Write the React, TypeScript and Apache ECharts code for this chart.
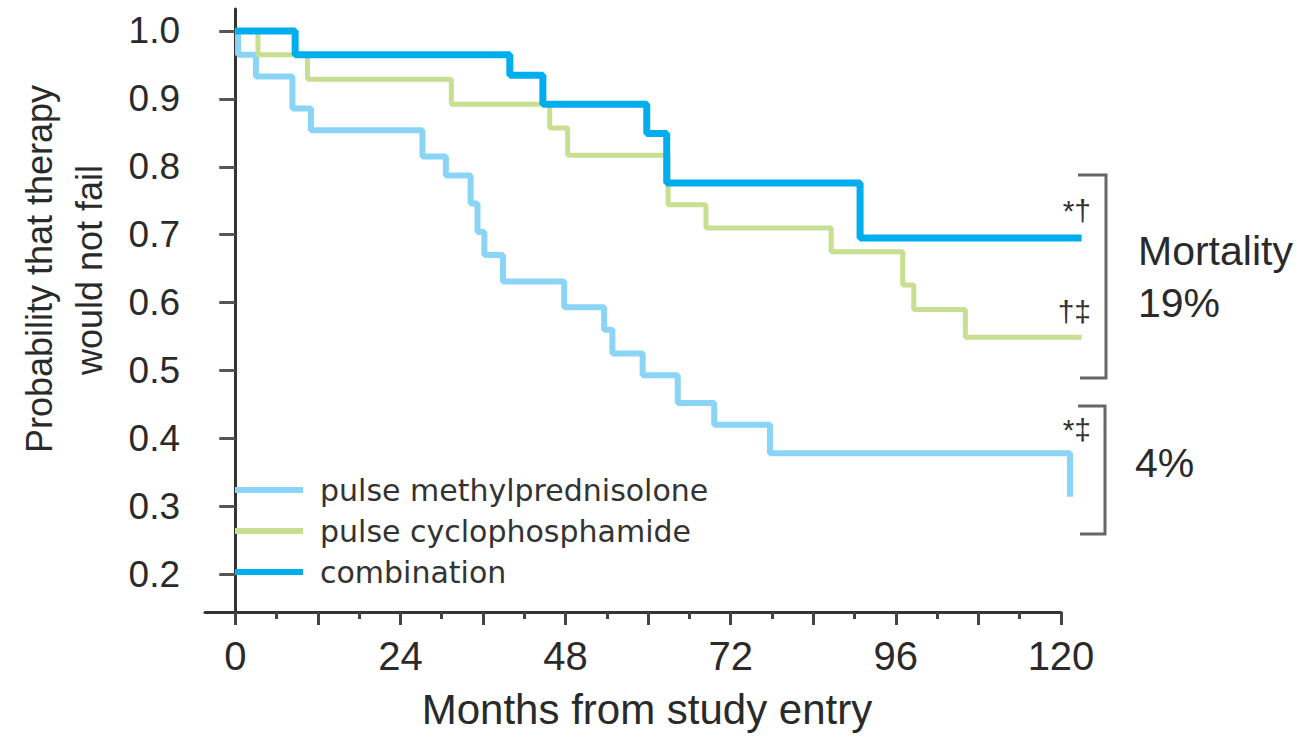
import React, { useEffect, useRef } from "react";
import * as echarts from "echarts";

// ---- data (months from study entry, probability therapy would not fail) ----
const seriesNames = ["pulse methylprednisolone", "pulse cyclophosphamide", "combination"];

const methylprednisolone: [number, number][] = [
  [0, 1.0], [0.4, 0.965], [3.0, 0.933], [8.3, 0.886], [11.0, 0.854], [27.2, 0.815],
  [30.6, 0.787], [34.2, 0.746], [35.2, 0.704], [36.2, 0.67], [38.9, 0.631], [47.8, 0.593],
  [53.6, 0.56], [54.8, 0.525], [59.2, 0.493], [64.3, 0.452], [69.6, 0.42], [77.7, 0.378],
  [121.3, 0.314],
];

const cyclophosphamide: [number, number][] = [
  [0, 1.0], [3.3, 0.965], [10.5, 0.929], [31.4, 0.892], [45.7, 0.857], [48.3, 0.817],
  [62.9, 0.744], [68.4, 0.71], [86.6, 0.675], [97.0, 0.626], [98.6, 0.59], [106.1, 0.549],
  [123, 0.549],
];

const combination: [number, number][] = [
  [0, 1.0], [8.7, 0.965], [39.9, 0.935], [44.7, 0.892], [59.8, 0.849], [62.7, 0.776],
  [90.8, 0.695], [123, 0.695],
];

const xMajorTicks = [0, 12, 24, 36, 48, 60, 72, 84, 96, 108, 120];
const xMinorTicks = [6, 18, 30, 42, 54, 66, 78, 90, 102, 114];
const xTickLabels = [0, 24, 48, 72, 96, 120];
const yTickValues = [0.2, 0.3, 0.4, 0.5, 0.6, 0.7, 0.8, 0.9, 1.0];

const seriesColors = ["#8AD4F6", "#C6DF90", "#00AEEF"];
const seriesWidths = [6, 5, 7];

const yTitleLines = ["Probability that therapy", "would not fail"];
const xTitle = "Months from study entry";
const mortalityTexts = ["Mortality", "19%", "4%"];
const significanceMarks = ["*†", "†‡", "*‡"];

const FONT = "'Liberation Sans', Arial, Helvetica, sans-serif";
const TEXT = "#2a2a2a";

// axis ranges
const X_MIN = -4.4;
const X_MAX = 120;
const X_DATA_MAX = 123.1;
const Y_MIN = 0.1443;
const Y_MAX = 1.0324;

export default function App() {
  const ref = useRef<HTMLDivElement>(null);

  useEffect(() => {
    if (!ref.current) return;
    const chart = echarts.init(ref.current, undefined, { renderer: "svg" });
    const datasets = [methylprednisolone, cyclophosphamide, combination];

    const gridLeft = 205;
    const gridWidth = 856;
    const pxPerMonth = gridWidth / (X_MAX - X_MIN);
    const dataGridWidth = pxPerMonth * (X_DATA_MAX - X_MIN);

    const option: any = {
      animation: false,
      backgroundColor: "#ffffff",
      grid: [
        { left: gridLeft, width: gridWidth, top: 9, bottom: 125, containLabel: false },
        { left: gridLeft, width: dataGridWidth, top: 9, bottom: 125, containLabel: false },
      ],
      xAxis: [
        {
          type: "value",
          gridIndex: 0,
          min: X_MIN,
          max: X_MAX,
          axisLine: { show: true, lineStyle: { color: "#333", width: 3 } },
          axisTick: {
            show: true,
            customValues: xMajorTicks,
            length: 13,
            lineStyle: { color: "#444", width: 3 },
          },
          axisLabel: {
            show: true,
            customValues: xTickLabels,
            margin: 24,
            fontSize: 40,
            fontFamily: FONT,
            color: TEXT,
          },
          splitLine: { show: false },
        },
        {
          type: "value",
          gridIndex: 0,
          min: X_MIN,
          max: X_MAX,
          position: "bottom",
          axisLine: { show: false },
          axisTick: {
            show: true,
            customValues: xMinorTicks,
            length: 7,
            lineStyle: { color: "#444", width: 3 },
          },
          axisLabel: { show: false },
          splitLine: { show: false },
        },
        {
          type: "value",
          gridIndex: 1,
          min: X_MIN,
          max: X_DATA_MAX,
          show: false,
        },
      ],
      yAxis: [
        {
          type: "value",
          gridIndex: 0,
          min: Y_MIN,
          max: Y_MAX,
          axisLine: { show: true, lineStyle: { color: "#333", width: 3 } },
          axisTick: {
            show: true,
            customValues: yTickValues,
            length: 16,
            lineStyle: { color: "#555", width: 3 },
          },
          axisLabel: {
            show: true,
            customValues: yTickValues,
            formatter: (v: number) => v.toFixed(1),
            margin: 25,
            fontSize: 37,
            fontFamily: FONT,
            color: TEXT,
          },
          splitLine: { show: false },
        },
        {
          type: "value",
          gridIndex: 1,
          min: Y_MIN,
          max: Y_MAX,
          show: false,
        },
      ],
      legend: {
        orient: "vertical",
        left: 235,
        top: 475,
        padding: 0,
        itemGap: 11,
        itemWidth: 68,
        itemHeight: 6,
        icon: "rect",
        data: seriesNames,
        textStyle: {
          fontSize: 30,
          fontFamily: "'DejaVu Sans', sans-serif",
          color: "#333",
          padding: [0, 0, 0, 12],
        },
      },
      series: seriesNames.map((name, i) => ({
        name,
        type: "line",
        xAxisIndex: 2,
        yAxisIndex: 1,
        step: "end",
        data: datasets[i],
        symbol: "none",
        clip: false,
        color: seriesColors[i],
        lineStyle: { color: seriesColors[i], width: seriesWidths[i] },
        z: i + 2,
      })),
      graphic: [
        {
          type: "text",
          x: 39.5,
          y: 269,
          rotation: Math.PI / 2,
          style: {
            text: yTitleLines[0],
            fontSize: 36,
            fontFamily: FONT,
            fill: TEXT,
            align: "center",
            verticalAlign: "middle",
          },
        },
        {
          type: "text",
          x: 89,
          y: 270,
          rotation: Math.PI / 2,
          style: {
            text: yTitleLines[1],
            fontSize: 36,
            fontFamily: FONT,
            fill: TEXT,
            align: "center",
            verticalAlign: "middle",
          },
        },
        {
          type: "text",
          x: 647,
          y: 709,
          style: {
            text: xTitle,
            fontSize: 42,
            fontFamily: FONT,
            fill: TEXT,
            align: "center",
            verticalAlign: "middle",
          },
        },
        {
          type: "polyline",
          shape: { points: [[1078, 175], [1106, 175], [1106, 378], [1080, 378]] },
          style: { stroke: "#666", lineWidth: 3, fill: null },
        },
        {
          type: "polyline",
          shape: { points: [[1078, 406], [1105, 406], [1105, 534], [1080, 534]] },
          style: { stroke: "#666", lineWidth: 3, fill: null },
        },
        {
          type: "text",
          x: 1138,
          y: 251,
          style: { text: mortalityTexts[0], fontSize: 41, fontFamily: FONT, fill: TEXT, align: "left", verticalAlign: "middle" },
        },
        {
          type: "text",
          x: 1138,
          y: 303,
          style: { text: mortalityTexts[1], fontSize: 41, fontFamily: FONT, fill: TEXT, align: "left", verticalAlign: "middle" },
        },
        {
          type: "text",
          x: 1135,
          y: 463,
          style: { text: mortalityTexts[2], fontSize: 41, fontFamily: FONT, fill: TEXT, align: "left", verticalAlign: "middle" },
        },
        {
          type: "text",
          x: 1091,
          y: 210,
          style: { text: significanceMarks[0], fontSize: 30, fontFamily: FONT, fill: "#333", align: "right", verticalAlign: "middle" },
        },
        {
          type: "text",
          x: 1091,
          y: 311,
          style: { text: significanceMarks[1], fontSize: 30, fontFamily: FONT, fill: "#333", align: "right", verticalAlign: "middle" },
        },
        {
          type: "text",
          x: 1091,
          y: 429,
          style: { text: significanceMarks[2], fontSize: 30, fontFamily: FONT, fill: "#333", align: "right", verticalAlign: "middle" },
        },
      ],
    };

    chart.setOption(option);
    return () => chart.dispose();
  }, []);

  return (
    <div
      ref={ref}
      style={{ position: "absolute", left: 0, top: 0, width: 1306, height: 737, background: "#fff" }}
    />
  );
}
